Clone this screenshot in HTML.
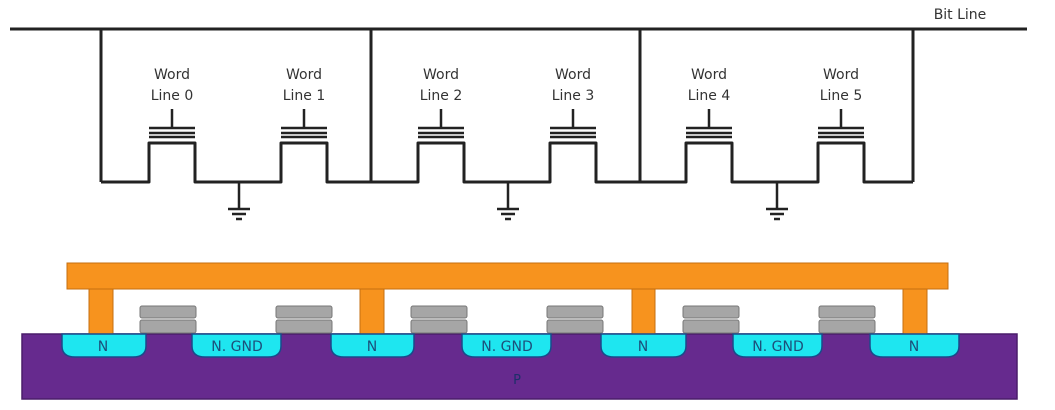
<!DOCTYPE html>
<html><head><style>
html,body{margin:0;padding:0;background:#fff;}
svg{display:block;}
text{font-family:"DejaVu Sans","Liberation Sans",sans-serif;}
</style></head><body>
<svg width="1055" height="410" viewBox="0 0 1055 410" xmlns="http://www.w3.org/2000/svg">
<g stroke="#222" stroke-width="3" fill="none" stroke-linejoin="round">
<line x1="10" y1="29" x2="1027" y2="29"/>
<line x1="101" y1="29" x2="101" y2="182"/>
<line x1="371" y1="29" x2="371" y2="182"/>
<line x1="640" y1="29" x2="640" y2="182"/>
<line x1="913" y1="29" x2="913" y2="182"/>
<path d="M101 182 H149 V143 H195 V182 H281 V143 H327 V182 H371"/>
<path d="M371 182 H418 V143 H464 V182 H550 V143 H596 V182 H640"/>
<path d="M640 182 H686 V143 H732 V182 H818 V143 H864 V182 H913"/>
</g>
<g stroke="#222" stroke-width="2.5">
<!-- gates -->
<g id="g0">
<line x1="172" y1="109" x2="172" y2="128"/>
<line x1="149" y1="128" x2="195" y2="128"/>
<line x1="149" y1="133" x2="195" y2="133"/>
<line x1="149" y1="137" x2="195" y2="137"/>
</g>
<use href="#g0" x="132"/>
<use href="#g0" x="269"/>
<use href="#g0" x="401"/>
<use href="#g0" x="537"/>
<use href="#g0" x="669"/>
<g id="gnd">
<line x1="239" y1="182" x2="239" y2="209"/>
<line x1="228" y1="209" x2="250" y2="209"/>
<line x1="232" y1="214" x2="246" y2="214"/>
<line x1="236" y1="219" x2="242" y2="219"/>
</g>
<use href="#gnd" x="269"/>
<use href="#gnd" x="538"/>
</g>
<g font-size="14" fill="#333" text-anchor="middle">
<text x="172" y="79">Word</text><text x="172" y="100">Line 0</text>
<text x="304" y="79">Word</text><text x="304" y="100">Line 1</text>
<text x="441" y="79">Word</text><text x="441" y="100">Line 2</text>
<text x="573" y="79">Word</text><text x="573" y="100">Line 3</text>
<text x="709" y="79">Word</text><text x="709" y="100">Line 4</text>
<text x="841" y="79">Word</text><text x="841" y="100">Line 5</text>
<text x="960" y="19">Bit Line</text>
</g>
<!-- cross section -->
<rect x="22" y="334" width="995" height="65" fill="#662a8e" stroke="#4a1d6a" stroke-width="1.5"/>
<rect x="67" y="263" width="881" height="26" fill="#f7931e" stroke="#c56f10" stroke-width="1"/>
<g fill="#f7931e" stroke="#c56f10" stroke-width="1">
<rect x="89" y="289" width="24" height="45"/>
<rect x="360" y="289" width="24" height="45"/>
<rect x="632" y="289" width="23" height="45"/>
<rect x="903" y="289" width="24" height="45"/>
</g>
<g fill="#a6a6a6" stroke="#777" stroke-width="1">
<g id="st"><rect x="140" y="306" width="56" height="12" rx="2"/><rect x="140" y="320" width="56" height="13" rx="2"/></g>
<use href="#st" x="136"/><use href="#st" x="271"/><use href="#st" x="407"/><use href="#st" x="543"/><use href="#st" x="679"/>
</g>
<g fill="#1ee6f0" stroke="#1a4a8a" stroke-width="1.5">
<path d="M62 334 V346 Q62 357 75 357 H133 Q146 357 146 346 V334 Z"/>
<path d="M331 334 V346 Q331 357 344 357 H401 Q414 357 414 346 V334 Z"/>
<path d="M601 334 V346 Q601 357 614 357 H673 Q686 357 686 346 V334 Z"/>
<path d="M870 334 V346 Q870 357 883 357 H946 Q959 357 959 346 V334 Z"/>
<path d="M192 334 V346 Q192 357 205 357 H268 Q281 357 281 346 V334 Z"/>
<path d="M462 334 V346 Q462 357 475 357 H538 Q551 357 551 346 V334 Z"/>
<path d="M733 334 V346 Q733 357 746 357 H809 Q822 357 822 346 V334 Z"/>
</g>
<g font-size="14" fill="#1d4f7a" text-anchor="middle">
<text x="103" y="351">N</text><text x="372" y="351">N</text><text x="643" y="351">N</text><text x="914" y="351">N</text>
<text x="237" y="351">N. GND</text><text x="507" y="351">N. GND</text><text x="778" y="351">N. GND</text>
<text x="517" y="384" fill="#1d2f6a" font-size="13">P</text>
</g>
</svg>
</body></html>
